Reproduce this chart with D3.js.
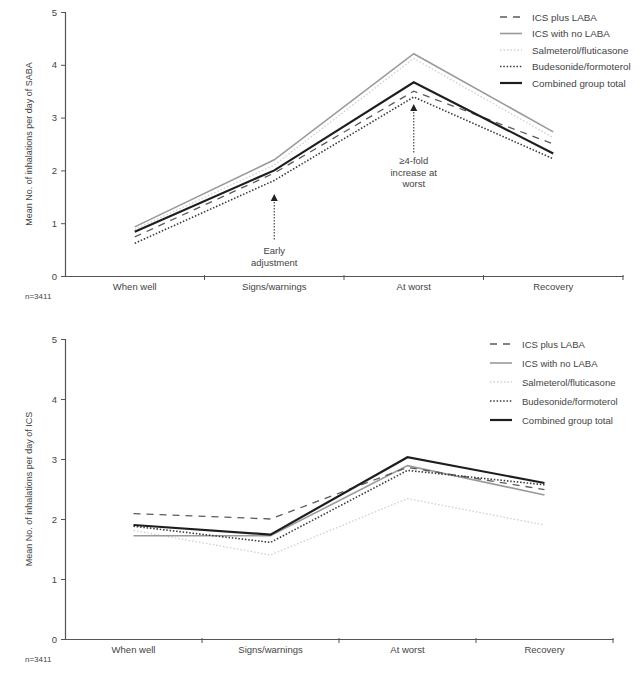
<!DOCTYPE html>
<html><head><meta charset="utf-8">
<script src="https://cdn.jsdelivr.net/npm/d3@7"></script>
<style>body{margin:0;background:#fff}svg{display:block;font-family:"Liberation Sans",Arial,sans-serif}</style>
</head><body>
<svg id="c" width="640" height="682"></svg>
<script>
const categories = ["When well","Signs/warnings","At worst","Recovery"];
const seriesNames = ["ICS plus LABA","ICS with no LABA","Salmeterol/fluticasone","Budesonide/formoterol","Combined group total"];
const yTicks = [0,1,2,3,4,5];
// SABA chart values
const sabaIcsPlusLaba   = [0.74,1.95,3.50,2.50];
const sabaIcsNoLaba     = [0.93,2.20,4.21,2.73];
const sabaSalmeterol    = [0.88,2.10,4.12,2.62];
const sabaBudesonide    = [0.62,1.81,3.39,2.22];
const sabaCombined      = [0.84,2.00,3.67,2.32];
// ICS chart values
const icsIcsPlusLaba    = [2.09,2.00,2.86,2.49];
const icsIcsNoLaba      = [1.72,1.72,2.89,2.40];
const icsSalmeterol     = [1.81,1.40,2.34,1.90];
const icsBudesonide     = [1.88,1.61,2.81,2.57];
const icsCombined       = [1.90,1.74,3.03,2.60];
const nLabel = "n=3411";

const styles = [
  {stroke:"#5a5a5a", w:1.3, dash:"7,6"},
  {stroke:"#9a9a9a", w:1.6, dash:null},
  {stroke:"#cfcfcf", w:1.3, dash:"1.5,2"},
  {stroke:"#3a3a3a", w:1.6, dash:"1.5,1.8"},
  {stroke:"#1e1e1e", w:2.2, dash:null}
];

const svg = d3.select("#c");

function drawChart(cfg){
  const g = svg.append("g");
  const x = d3.scaleBand().domain(categories).range([cfg.x0, cfg.x1]).padding(0);
  const y = d3.scaleLinear().domain([0,5]).range([cfg.y0, cfg.y1]);
  const ya = g.append("g").attr("transform",`translate(${cfg.x0},0)`)
    .call(d3.axisLeft(y).tickValues(yTicks).tickSize(4).tickPadding(4).tickFormat(d3.format("d")));
  ya.select(".domain").attr("stroke","#555").attr("stroke-width",1.2);
  ya.selectAll(".tick line").attr("stroke","#555");
  ya.selectAll("text").attr("font-size",9.5).attr("fill","#444");
  const xa = g.append("g").attr("transform",`translate(0,${cfg.y0})`)
    .call(d3.axisBottom(x).tickSize(0).tickPadding(7));
  xa.select(".domain").attr("stroke","#555").attr("stroke-width",1.2);
  xa.selectAll("text").attr("font-size",9.5).attr("fill","#444");
  const bounds = categories.map(c=>x(c)+x.bandwidth());
  g.selectAll(".xt").data(bounds).join("line")
    .attr("x1",d=>d).attr("x2",d=>d).attr("y1",cfg.y0-1).attr("y2",cfg.y0+4)
    .attr("stroke","#555").attr("stroke-width",1);
  g.append("text").attr("transform",`translate(${cfg.x0-33},${(cfg.y0+cfg.y1)/2}) rotate(-90)`)
    .attr("text-anchor","middle").attr("font-size",9).attr("fill","#444").text(cfg.ylabel);
  g.append("text").attr("x",25).attr("y",cfg.y0+23).attr("font-size",8).attr("fill","#444").text(nLabel);
  const line = d3.line().x((d,i)=>x(categories[i])+x.bandwidth()/2).y(d=>y(d));
  const order = [2,1,0,3,4];
  order.forEach(k=>{
    const s = styles[k];
    g.append("path").datum(cfg.series[k]).attr("d",line).attr("fill","none")
      .attr("stroke",s.stroke).attr("stroke-width",s.w)
      .attr("stroke-dasharray",s.dash).attr("stroke-linejoin","miter");
  });
  seriesNames.forEach((nm,i)=>{
    const s = styles[i];
    const ly = cfg.legY + i*cfg.legStep;
    g.append("line").attr("x1",cfg.legX).attr("x2",cfg.legX+22).attr("y1",ly).attr("y2",ly)
      .attr("stroke",s.stroke).attr("stroke-width",s.w).attr("stroke-dasharray",s.dash);
    g.append("text").attr("x",cfg.legX+32).attr("y",ly+3.5).attr("font-size",cfg.legFont).attr("fill","#444").text(nm);
  });
  return {x,y,g};
}

const chartTop = drawChart({x0:65,x1:623,y0:276,y1:12,ylabel:"Mean No. of inhalations per day of SABA",
  series:[sabaIcsPlusLaba,sabaIcsNoLaba,sabaSalmeterol,sabaBudesonide,sabaCombined],
  legX:500,legY:17,legStep:16.5,legFont:9.8});
const chartBot = drawChart({x0:65,x1:613,y0:639,y1:339,ylabel:"Mean No. of inhalations per day of ICS",
  series:[icsIcsPlusLaba,icsIcsNoLaba,icsSalmeterol,icsBudesonide,icsCombined],
  legX:490,legY:344,legStep:19,legFont:9.5});

function annot(cat, yTip, yBot, lines, textY){
  const cx = chartTop.x(cat)+chartTop.x.bandwidth()/2;
  chartTop.g.append("line").attr("x1",cx).attr("x2",cx).attr("y1",yTip+5).attr("y2",yBot)
    .attr("stroke","#444").attr("stroke-width",1.2).attr("stroke-dasharray","1.5,1.5");
  chartTop.g.append("path").attr("d",`M${cx},${yTip} L${cx-3.5},${yTip+7} L${cx+3.5},${yTip+7} Z`).attr("fill","#222");
  lines.forEach((t,i)=>chartTop.g.append("text").attr("x",cx).attr("y",textY+i*11.5).attr("text-anchor","middle")
    .attr("font-size",9.5).attr("fill","#444").text(t));
}
annot("Signs/warnings",194,241,["Early","adjustment"],254);
annot("At worst",104,154,["\u22654-fold","increase at","worst"],164);
</script>
</body></html>
